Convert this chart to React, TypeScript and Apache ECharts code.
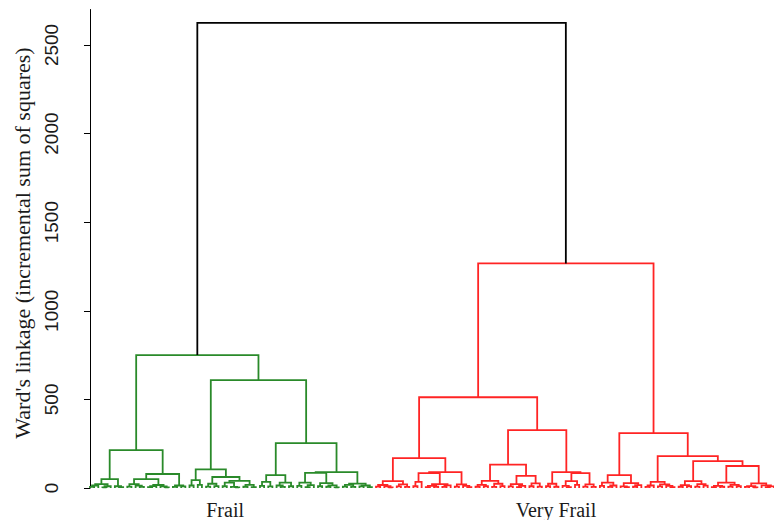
import React, { useEffect, useRef } from 'react';
import * as echarts from 'echarts';

// Dendrogram nodes: [mergeHeight, left, right]; a leaf is 0.
const frailA = [50, [22, [14, [6, 0, 0], 0], [10, [4, 0, 0], 0]], [10, 0, [5, 0, 0]]];
const frailB = [79, [50, [22, [8, 0, 0], [13, 0, [6, 0, 0]]], [17, [11, [5, 0, 0], 0], [9, 0, [4, 0, 0]]]], [14, [6, 0, 0], [9, 0, 0]]];
const frailC = [105, [45, [14, 0, 0], [18, 0, 0]], [62, [24, [8, 0, 0], [11, 0, 0]], [40, [30, [10, 0, 0], [6, 0, [4, 0, 0]]], [18, [7, 0, 0], [5, 0, 0]]]]];
const frailD = [253, [73, [34, [12, 0, 0], [9, 0, 0]], [30, [14, 0, [6, 0, 0]], [10, 0, 0]]],
  [90, [85, [30, [12, 0, 0], [16, [5, 0, 0], 0]], [28, [10, 0, 0], [15, [7, 0, 0], [4, 0, 0]]]], [25, [18, [8, 0, 0], [6, 0, 0]], [14, [9, 0, 0], [5, 0, 0]]]]];
const frail = [750, [214, frailA, frailB], [609, frailC, frailD]];

const veryFrailA = [169, [39, [17, [8, 0, 0], [10, 0, [4, 0, 0]]], [20, [9, 0, 0], [6, 0, 0]]],
  [90, [84, [34, [10, 0, 0], 0], [22, [12, [5, 0, 0], [7, 0, 0]], [15, [6, 0, 0], 0]]], [20, [8, 0, 0], [12, 0, [5, 0, 0]]]]];
const veryFrailB = [327, [132, [40, [18, [7, 0, 0], [10, 0, 0]], [24, [6, 0, 0], [11, 0, 0]]], [68, [22, [9, 0, 0], [12, [5, 0, 0], 0]], [26, [10, 0, 0], [8, 0, 0]]]],
  [90, [24, [10, 0, 0], [7, 0, 0]], [84, [39, [12, 0, [5, 0, 0]], [18, 0, 0]], [20, [8, 0, 0], [6, 0, 0]]]]];
const veryFrailC = [73, [30, [12, 0, 0], [14, [6, 0, 0], 0]], [28, [9, 0, [5, 0, 0]], [16, [7, 0, 0], 0]]];
const veryFrailD = [180, [34, [14, [6, 0, 0], 0], [20, [9, 0, 0], [12, 0, [5, 0, 0]]]],
  [152, [39, [16, [7, 0, 0], [10, 0, 0]], [22, [8, 0, 0], [13, 0, 0]]],
    [124, [30, [12, [5, 0, 0], [7, 0, 0]], [18, [8, 0, 0], [10, 0, 0]]], [26, [11, [6, 0, 0], [4, 0, 0]], [15, 0, [9, [5, 0, 0], 0]]]]]];
const veryFrail = [1267, [512, veryFrailA, veryFrailB], [310, veryFrailC, veryFrailD]];

const rootHeight = 2624;
const groupNames = ['Frail', 'Very Frail'];
const groupLabelPositions = [32.6, 112.4];
const yTicks = [0, 500, 1000, 1500, 2000, 2500];
const yTitle = "Ward's linkage (incremental sum of squares)";
const colors = ['#000000', '#2a8a2a', '#ff2424'];

function buildLinks() {
  const links: number[][] = [];
  let counter = 0;
  const walk = (node: any, color: number): { x: number; h: number } => {
    if (!Array.isArray(node)) {
      const x = counter++;
      return { x, h: 0 };
    }
    const l = walk(node[1], color);
    const r = walk(node[2], color);
    links.push([l.x, r.x, l.h, r.h, node[0], color]);
    return { x: (l.x + r.x) / 2, h: node[0] };
  };
  const g = walk(frail, 1);
  const v = walk(veryFrail, 2);
  links.push([g.x, v.x, g.h, v.h, rootHeight, 0]);
  return { links, leafCount: counter };
}

export default function App() {
  const ref = useRef<HTMLDivElement>(null);
  useEffect(() => {
    if (!ref.current) return;
    const chart = echarts.init(ref.current, null, { renderer: 'svg' });
    const { links, leafCount } = buildLinks();
    chart.setOption({
      animation: false,
      backgroundColor: '#ffffff',
      grid: { left: 81, right: 0, top: 9.5, bottom: 31 },
      xAxis: {
        type: 'value',
        min: -2.17,
        max: leafCount - 1,
        axisLine: { show: false },
        axisTick: { show: false },
        splitLine: { show: false },
        axisLabel: {
          customValues: groupLabelPositions,
          formatter: (v: number) => {
            const i = groupLabelPositions.findIndex((p) => Math.abs(p - v) < 1e-6);
            return i >= 0 ? groupNames[i] : '';
          },
          fontFamily: 'Liberation Serif',
          fontSize: 20,
          color: '#1a1a1a',
          margin: 12,
        },
      },
      yAxis: {
        type: 'value',
        min: 0,
        max: 2700,
        axisLine: { show: true, lineStyle: { color: '#000', width: 1 } },
        axisTick: { show: true, customValues: yTicks, length: 6, lineStyle: { color: '#000' } },
        axisLabel: {
          customValues: yTicks,
          formatter: (v: number) => String(v),
          rotate: 90,
          fontFamily: 'Liberation Sans',
          fontSize: 19,
          color: '#1a1a1a',
          margin: 20,
        },
        splitLine: { show: false },
      },
      graphic: [
        {
          type: 'text',
          x: 22,
          y: 243,
          rotation: Math.PI / 2,
          style: {
            text: yTitle,
            fontFamily: 'Liberation Serif',
            fontSize: 22,
            fill: '#1a1a1a',
            align: 'center',
            verticalAlign: 'middle',
          },
        },
      ],
      series: [
        {
          type: 'custom',
          data: links,
          encode: { x: [0, 1], y: [2, 3, 4] },
          renderItem: (params: any, api: any) => {
            const xl = api.value(0);
            const xr = api.value(1);
            const hl = api.value(2);
            const hr = api.value(3);
            const h = api.value(4);
            const c = api.value(5);
            const pts = [api.coord([xl, hl]), api.coord([xl, h]), api.coord([xr, h]), api.coord([xr, hr])];
            return {
              type: 'polyline',
              shape: { points: pts },
              style: { stroke: colors[c], lineWidth: 1.8, fill: 'none' },
            };
          },
        },
      ],
    });
    return () => chart.dispose();
  }, []);
  return <div ref={ref} style={{ position: 'absolute', left: 0, top: 0, width: 774, height: 520 }} />;
}
